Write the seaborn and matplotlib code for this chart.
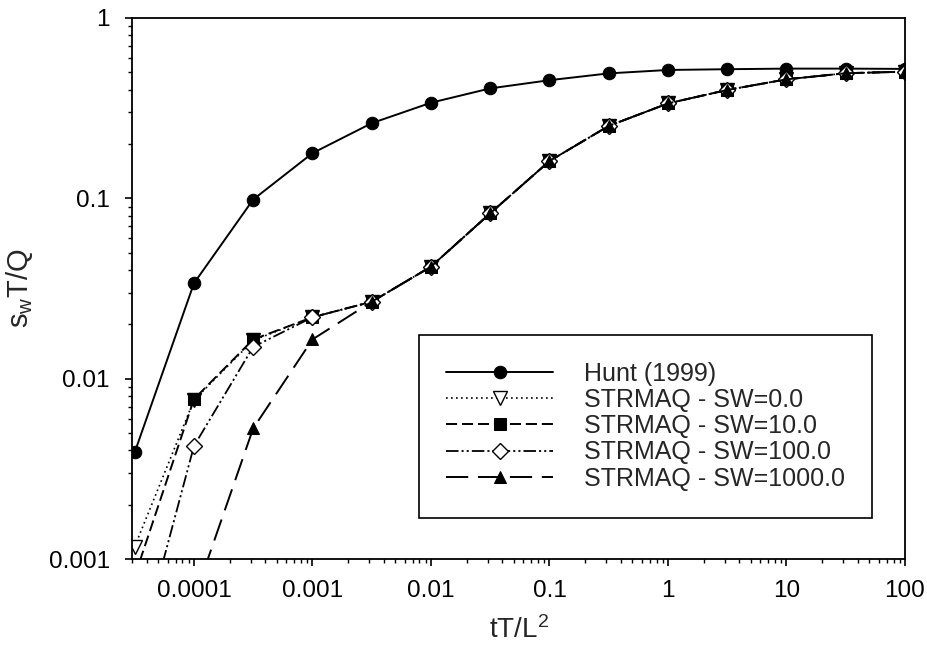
import numpy as np
import pandas as pd
import matplotlib
matplotlib.use("Agg")
import matplotlib.pyplot as plt
import seaborn as sns
from matplotlib.ticker import LogLocator, FuncFormatter, NullFormatter

# ---- data ----
t_values = [3.16e-5, 1e-4, 3.16e-4, 1e-3, 3.16e-3, 1e-2, 3.16e-2, 0.1, 0.316, 1.0, 3.16, 10.0, 31.6, 100.0]
hunt = [0.0039, 0.0338, 0.0985, 0.178, 0.261, 0.339, 0.407, 0.452, 0.493, 0.515, 0.520, 0.524, 0.524, 0.522]
sw0 = [0.00117, 0.0076, 0.0163, 0.0219, 0.0267, 0.0418, 0.0826, 0.161, 0.252, 0.336, 0.399, 0.457, 0.494, 0.504]
sw10 = [0.0008, 0.0077, 0.0165, 0.0219, 0.0267, 0.0418, 0.0826, 0.161, 0.252, 0.336, 0.399, 0.457, 0.494, 0.504]
sw100 = [0.00025, 0.00423, 0.0150, 0.0219, 0.0267, 0.0418, 0.0826, 0.161, 0.252, 0.336, 0.399, 0.457, 0.494, 0.504]
sw1000 = [0.00005, 0.0006, 0.0053, 0.0165, 0.0267, 0.0418, 0.0826, 0.161, 0.252, 0.336, 0.399, 0.457, 0.494, 0.504]
labels = ["Hunt (1999)", "STRMAQ - SW=0.0", "STRMAQ - SW=10.0", "STRMAQ - SW=100.0", "STRMAQ - SW=1000.0"]
x_ticks = [1e-4, 1e-3, 1e-2, 1e-1, 1, 10, 100]
y_ticks = [0.001, 0.01, 0.1, 1]

sns.set_theme(style="ticks")
plt.rcParams["font.family"] = ["Liberation Sans", "DejaVu Sans"]
plt.rcParams["mathtext.fontset"] = "custom"
plt.rcParams["mathtext.rm"] = "Liberation Sans"
plt.rcParams["mathtext.it"] = "Liberation Sans"
plt.rcParams["lines.scale_dashes"] = False

fig = plt.figure(figsize=(9.27, 6.61), dpi=100)
ax = fig.add_axes([132 / 927, 1 - 559 / 661, (905 - 132) / 927, (559 - 18) / 661])

styles = [
    dict(marker="o", ms=9, mfc="black", mec="black", linestyle="-", lw=1.4),
    dict(marker="v", ms=9.5, mfc="white", mec="black", mew=1.0, linestyle=(0, (1.2, 2.4)), lw=1.2),
    dict(marker="s", ms=8, mfc="black", mec="black", linestyle=(0, (8, 3.5)), lw=1.4),
    dict(marker="D", ms=8, mfc="white", mec="black", mew=1.0, linestyle=(0, (9, 2.2, 1.5, 2.2, 1.5, 2.2)), lw=1.3),
    dict(marker="^", ms=8.5, mfc="black", mec="black", linestyle=(0, (16, 7)), lw=1.4),
]
series = [hunt, sw0, sw10, sw100, sw1000]
for lab, vals, st in zip(labels, series, styles):
    df = pd.DataFrame({"t": t_values, "s": vals})
    sns.lineplot(data=df, x="t", y="s", ax=ax, label=lab, color="black",
                 estimator=None, sort=False, **st)

ax.set_xscale("log")
ax.set_yscale("log")
ax.set_xlim(3.0e-5, 100)
ax.set_ylim(0.001, 1)
ax.set_xticks(x_ticks)
ax.set_yticks(y_ticks)
fmt = FuncFormatter(lambda v, _: f"{v:g}")
ax.xaxis.set_major_formatter(fmt)
ax.yaxis.set_major_formatter(fmt)
ax.xaxis.set_minor_locator(LogLocator(base=10, subs=np.arange(2, 10)))
ax.yaxis.set_minor_locator(LogLocator(base=10, subs=np.arange(2, 10)))
ax.xaxis.set_minor_formatter(NullFormatter())
ax.yaxis.set_minor_formatter(NullFormatter())
ax.tick_params(which="major", direction="out", length=5, width=1.2, colors="black",
               labelsize=17.5)
ax.tick_params(axis="x", which="major", pad=10)
ax.tick_params(axis="y", which="major", pad=11)
ax.tick_params(which="minor", direction="out", length=3, width=1.0, colors="black")
for sp in ax.spines.values():
    sp.set_color("black")
    sp.set_linewidth(1.3)
    sp.set_visible(True)

ax.set_xlabel(r"$\mathregular{tT/L^2}$", fontsize=20, labelpad=10)
ax.set_ylabel(r"$\mathregular{s_wT/Q}$", fontsize=21, labelpad=10)

leg = ax.legend(loc="upper left", bbox_to_anchor=(419 / 927, 1 - 335 / 661),
                bbox_transform=fig.transFigure, fontsize=18, frameon=True,
                fancybox=False, framealpha=1, edgecolor="black",
                handlelength=4.3, handletextpad=1.25, labelspacing=0.09,
                borderpad=1.07, borderaxespad=0, numpoints=1)
leg.get_frame().set_linewidth(1.2)

fig.savefig("out.png", dpi=100)
